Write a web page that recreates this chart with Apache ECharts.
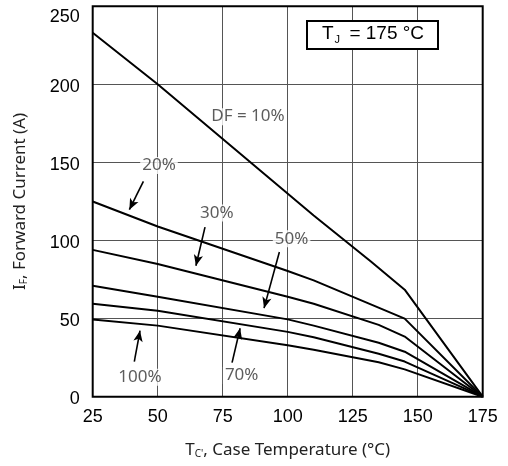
<!DOCTYPE html>
<html><head><meta charset="utf-8">
<script src="https://cdn.jsdelivr.net/npm/echarts@6/dist/echarts.min.js"></script>
<style>html,body{margin:0;padding:0;background:#fff}#c{width:508px;height:466px}</style>
</head><body><div id="c"></div>
<script>
// Data (T_C in °C, I_F in A)
const xTicks = [25, 50, 75, 100, 125, 150, 175];
const yTicks = [0, 50, 100, 150, 200, 250];
const df10  = [[25,233],[50,200],[110,116],[132,86.5],[145,68.5],[175,0]];
const df20  = [[25,125],[50,109],[100,80.5],[110,74.5],[145,50],[175,0]];
const df30  = [[25,94],[50,85],[100,64],[110,59.5],[135,46],[145,38.5],[175,0]];
const df50  = [[25,71],[50,64],[100,49.5],[110,45.5],[135,34.5],[145,28.8],[175,0]];
const df70  = [[25,59.5],[50,55],[100,41.5],[110,38],[135,27.5],[145,22.5],[175,0]];
const df100 = [[25,49.5],[50,45.5],[100,33],[110,30],[135,22],[145,17.5],[175,0]];
// Annotation labels: [T, I, text]
const labels = [
  [84.7, 179.3, 'DF = 10%'],
  [50.5, 148, '20%'],
  [72.7, 117.6, '30%'],
  [101.5, 101.1, '50%'],
  [82.3, 13.5, '70%'],
  [43.2, 12.4, '100%']
];
// Arrows: [fromT, fromI, toT, toI]
const arrows = [
  [44.5, 137.8, 39.1, 119.7],
  [68.2, 108.6, 64.7, 83.8],
  [96.8, 92.6, 90.9, 56.7],
  [78.6, 21.8, 81.7, 43.8],
  [41.0, 22.4, 43.2, 42.3]
];

const chart = echarts.init(document.getElementById('c'), null, {renderer: 'canvas'});
const curve = (d) => ({
  type: 'line', data: d, symbol: 'none', silent: true,
  lineStyle: {color: '#000', width: 2}, z: 3
});
const annFont = 'Noto Sans';
chart.setOption({
  animation: false,
  title: {
    text: '{t|T}{s|J}{t| = 175 °C}',
    left: 307, top: 19,
    padding: [4, 14, 4, 15],
    borderColor: '#000', borderWidth: 2, backgroundColor: '#fff',
    textStyle: {
      fontWeight: 'normal',
      rich: {
        t: {fontFamily: 'Liberation Sans', fontSize: 19, fontWeight: 'normal', color: '#000', lineHeight: 22},
        s: {fontFamily: 'Liberation Sans', fontSize: 11, fontWeight: 'normal', color: '#000', verticalAlign: 'bottom', lineHeight: 16, padding: [0, 4, 0, 1]}
      }
    }
  },
  grid: {left: 92.7, right: 25.3, top: 6.2, bottom: 69.3, show: true, borderColor: '#000', borderWidth: 2, z: 5},
  xAxis: {
    type: 'value', min: 25, max: 175, interval: 25,
    axisLine: {show: false}, axisTick: {show: false},
    splitLine: {show: true, lineStyle: {color: '#555', width: 1}},
    axisLabel: {color: '#000', fontFamily: 'Liberation Sans', fontSize: 18, margin: 11,
      formatter: (v) => xTicks.includes(v) ? String(v) : ''},
    name: '{a|T}{s|C\'}{a|, Case Temperature (°C)}',
    nameLocation: 'middle', nameGap: 45,
    nameTextStyle: {rich: {
      a: {fontFamily: annFont, fontSize: 17, color: '#222'},
      s: {fontFamily: annFont, fontSize: 10, color: '#222', verticalAlign: 'bottom', padding: [7, 0, 0, 0]}
    }}
  },
  yAxis: {
    type: 'value', min: 0, max: 250, interval: 50,
    axisLine: {show: false}, axisTick: {show: false},
    splitLine: {show: true, lineStyle: {color: '#555', width: 1}},
    axisLabel: {color: '#000', fontFamily: 'Liberation Sans', fontSize: 18, margin: 13,
      formatter: (v) => !yTicks.includes(v) ? '' : (v === 250 ? '{t|' + v + '}' : '{n|' + v + '}'),
      rich: {
        n: {fontFamily: 'Liberation Sans', fontSize: 18, color: '#000', padding: [5, 0, 0, 0]},
        t: {fontFamily: 'Liberation Sans', fontSize: 18, color: '#000', padding: [22, 0, 0, 0]}
      }
    },
    name: '{a|I}{s|F}{a|, Forward Current (A)}',
    nameLocation: 'middle', nameGap: 64, nameRotate: 90,
    nameTextStyle: {rich: {
      a: {fontFamily: annFont, fontSize: 17, color: '#222'},
      s: {fontFamily: annFont, fontSize: 10, color: '#222', verticalAlign: 'bottom', padding: [7, 0, 0, 0]}
    }}
  },
  series: [
    curve(df10), curve(df20), curve(df30), curve(df50), curve(df70), curve(df100),
    {
      type: 'scatter', silent: true, z: 6,
      data: labels.map(l => ({value: [l[0], l[1]], name: l[2]})),
      symbolSize: 1, itemStyle: {color: 'rgba(0,0,0,0)'},
      label: {show: true, position: 'inside', formatter: '{b}',
        fontFamily: annFont, fontSize: 17, color: '#333',
        backgroundColor: '#fff', padding: [0, 2]},
      markLine: {
        silent: true, symbol: ['none', 'arrow'], symbolSize: [7, 11],
        lineStyle: {color: '#000', width: 1.6, type: 'solid'},
        label: {show: false},
        data: arrows.map(a => [{coord: [a[0], a[1]]}, {coord: [a[2], a[3]]}])
      }
    }
  ]
});
</script>
</body></html>
